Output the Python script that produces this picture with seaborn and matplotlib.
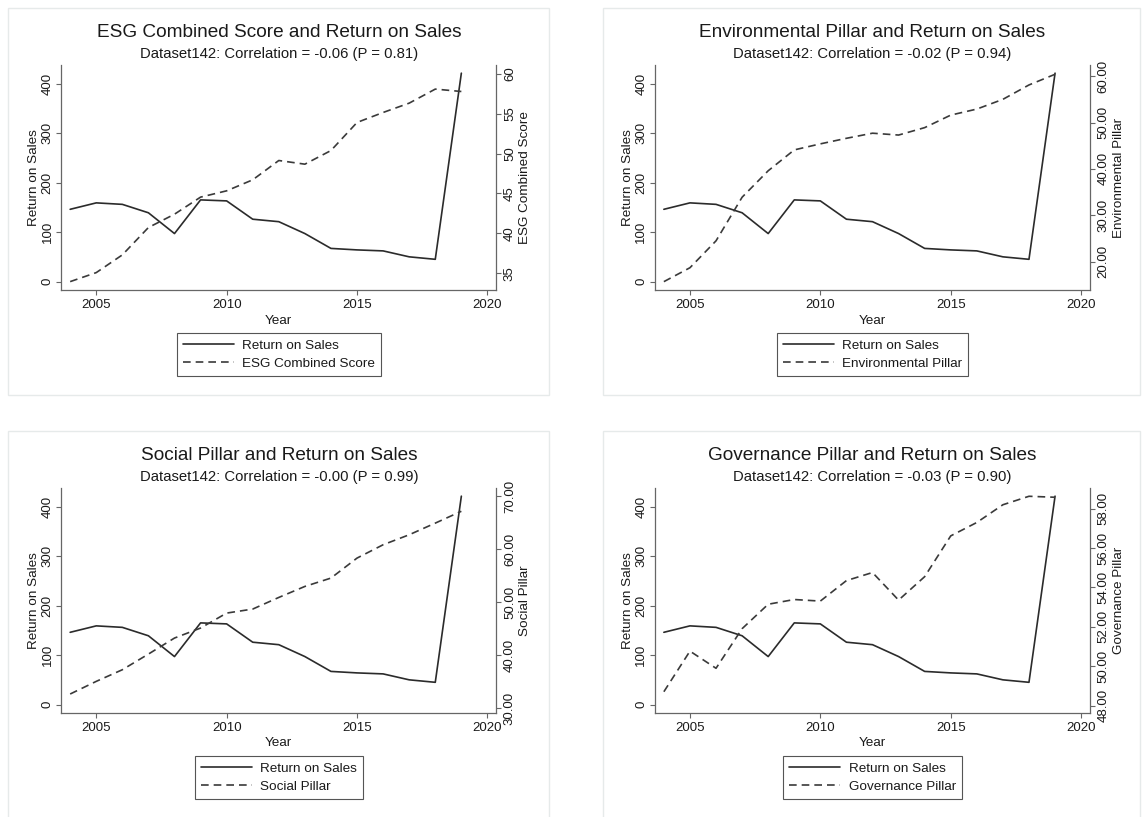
import seaborn as sns
import matplotlib.pyplot as plt
from matplotlib.patches import Rectangle
from matplotlib.ticker import FormatStrFormatter

# values
years = list(range(2004, 2020))
return_on_sales = [146, 159, 156, 139, 97, 165, 163, 126, 121, 97, 67, 64, 62, 50, 45, 421]

esg_score = [33.95, 35.08, 37.30, 40.73, 42.40, 44.54, 45.33, 46.71,
             49.13, 48.67, 50.38, 53.90, 55.15, 56.32, 58.08, 57.78]
environmental = [15.7, 18.7, 24.5, 33.9, 39.6, 44.1, 45.4, 46.6,
                 47.7, 47.3, 48.9, 51.6, 52.9, 55.0, 58.1, 60.4]
social = [32.65, 35.04, 37.24, 40.20, 43.23, 45.12, 47.95, 48.71,
          50.91, 52.99, 54.57, 58.35, 60.87, 62.76, 64.96, 67.20]
governance = [48.71, 50.77, 49.90, 51.91, 53.15, 53.39, 53.31, 54.35,
              54.76, 53.36, 54.55, 56.62, 57.30, 58.20, 58.63, 58.58]

pillar_names = ['ESG Combined Score', 'Environmental Pillar', 'Social Pillar', 'Governance Pillar']
correlations = ['-0.06', '-0.02', '-0.00', '-0.03']
p_values = ['0.81', '0.94', '0.99', '0.90']
dataset = 'Dataset142'

xticks = [2005, 2010, 2015, 2020]
left_ticks = [0, 100, 200, 300, 400]
right_ticks = [[35, 40, 45, 50, 55, 60],
               [20, 30, 40, 50, 60],
               [30, 40, 50, 60, 70],
               [48, 50, 52, 54, 56, 58]]
right_formats = ['%d', '%.2f', '%.2f', '%.2f']
right_limits = [(32.9, 61.1), (13.9, 62.4), (29.06, 71.6), (47.63, 59.05)]

sns.set_style('ticks')
plt.rcParams['font.family'] = ['Liberation Sans', 'DejaVu Sans']

W, H = 1144, 817
fig = plt.figure(figsize=(W / 100, H / 100), dpi=100)
fig.patch.set_facecolor('white')

ink = '#1a1a1a'
axis_grey = '#666666'

# panel frames (pixels: x0, y0, x1, y1 from top-left)
frames = [(8, 8, 549, 395), (603, 8, 1140, 395),
          (8, 431, 549, 830), (603, 431, 1140, 830)]
for x0, y0, x1, y1 in frames:
    fig.patches.append(Rectangle((x0 / W, 1 - y1 / H), (x1 - x0) / W, (y1 - y0) / H,
                                 transform=fig.transFigure, fill=False,
                                 edgecolor='#e6eaea', linewidth=1.0, zorder=0))

# axes boxes (pixels: left, top)
boxes = [(61.3, 65), (655, 65), (61.3, 488), (655, 488)]
ax_w, ax_h = 435, 225

dash = (0, (4.6, 3.0))

for i, (left, top) in enumerate(boxes):
    ax = fig.add_axes([left / W, 1 - (top + ax_h) / H, ax_w / W, ax_h / H])
    pillar = [esg_score, environmental, social, governance][i]
    name = pillar_names[i]

    sns.lineplot(x=years, y=return_on_sales, ax=ax, color='#2b2b2b',
                 linewidth=1.2, legend=False)
    ax2 = ax.twinx()
    sns.lineplot(x=years, y=pillar, ax=ax2, color='#3a3a3a',
                 linewidth=1.2, linestyle=dash, legend=False)

    ax.set_xlim(2003.66, 2020.34)
    ax.set_ylim(-17, 437.5)
    ax.set_xticks(xticks)
    ax.set_yticks(left_ticks)
    ax2.set_ylim(*right_limits[i])
    ax2.set_yticks(right_ticks[i])
    ax2.yaxis.set_major_formatter(FormatStrFormatter(right_formats[i]))

    for a in (ax, ax2):
        a.set_facecolor('none')
        a.spines['top'].set_visible(False)
        for s in a.spines.values():
            s.set_color(axis_grey)
            s.set_linewidth(0.9)
    ax.spines['right'].set_visible(False)
    ax2.spines['left'].set_visible(False)
    ax2.spines['bottom'].set_visible(False)

    ax.tick_params(axis='both', length=3.5, width=0.8, color=axis_grey,
                   labelsize=9.5, labelcolor=ink, pad=2)
    ax.tick_params(axis='x', pad=3)
    ax.tick_params(axis='y', labelrotation=90)
    ax2.tick_params(axis='y', length=3.5, width=0.8, color=axis_grey,
                    labelsize=9.5, labelcolor=ink, pad=2, labelrotation=90)
    for lab in ax.get_yticklabels() + ax2.get_yticklabels():
        lab.set_va('center')

    ax.set_xlabel('Year', fontsize=9.7, color=ink, labelpad=2.5)
    ax.set_ylabel('Return on Sales', fontsize=9.7, color=ink, labelpad=1)
    ax2.set_ylabel(name, fontsize=9.7, color=ink, labelpad=2.5)

    ax.annotate(f'{name} and Return on Sales', xy=(0.5, 1), xycoords='axes fraction',
                xytext=(0, 23.5), textcoords='offset points', ha='center', va='center',
                fontsize=13.7, color=ink)
    ax.annotate(f'{dataset}: Correlation = {correlations[i]} (P = {p_values[i]})',
                xy=(0.5, 1), xycoords='axes fraction', xytext=(0, 8),
                textcoords='offset points', ha='center', va='center',
                fontsize=10.7, color=ink)

    handles = [ax.get_lines()[0], ax2.get_lines()[0]]
    leg = ax2.legend(handles, ['Return on Sales', name], loc='upper center',
                     bbox_to_anchor=(0.5, -0.193), borderaxespad=0,
                     frameon=True, fancybox=False,
                     edgecolor='#555555', framealpha=1, fontsize=9.7,
                     handlelength=3.8, handletextpad=0.6, labelspacing=0.41,
                     borderpad=0.46)
    leg.get_frame().set_linewidth(0.8)
    for t in leg.get_texts():
        t.set_color(ink)

fig.savefig('out.png', dpi=100)
